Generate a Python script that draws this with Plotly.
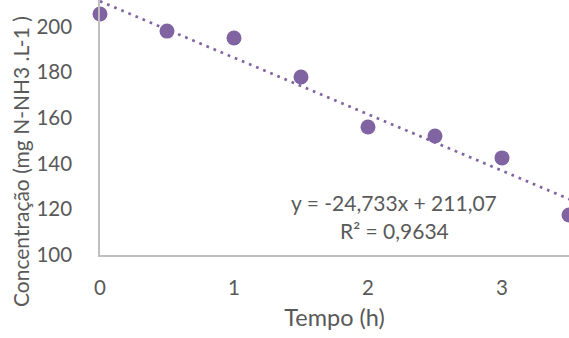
import plotly.graph_objects as go

tempo = [0, 0.5, 1, 1.5, 2, 2.5, 3, 3.5]
conc = [205.5, 198.0, 195.0, 177.9, 156.0, 152.1, 142.5, 117.5]
slope = -24.733
intercept = 211.07
trend_x = [0, 3.6]
x_ticks = [0, 1, 2, 3]
y_ticks = [100, 120, 140, 160, 180, 200]

purple = "#8064A2"
grey_txt = "#595959"
font_family = "Lato, 'Open Sans', Arial, sans-serif"

fig = go.Figure()
fig.add_trace(go.Scatter(
    x=trend_x, y=[slope * v + intercept for v in trend_x], mode="lines",
    line=dict(color=purple, width=2.7, dash="2.7px,5px"),
    hoverinfo="skip", showlegend=False))
fig.add_trace(go.Scatter(
    x=tempo, y=conc, mode="markers",
    marker=dict(color=purple, size=15, line=dict(width=0)),
    cliponaxis=False, showlegend=False))

fig.update_layout(
    width=569, height=338,
    margin=dict(l=100, r=0, t=0, b=83),
    plot_bgcolor="white", paper_bgcolor="white",
    font=dict(family=font_family, color=grey_txt, size=20),
    xaxis=dict(range=[0, 3.5], tickvals=x_ticks, showgrid=False, zeroline=False,
               showline=True, linecolor="#BFBFBF", linewidth=1.5,
               ticks="", ticklabelstandoff=14, tickfont=dict(size=20.5),
               title=dict(text="Tempo (h)", font=dict(size=23.5), standoff=11)),
    yaxis=dict(range=[100, 211.6], tickvals=y_ticks, showgrid=False, zeroline=False,
               showline=True, linecolor="#BFBFBF", linewidth=1.5,
               ticks="", ticklabelstandoff=22, tickfont=dict(size=20.5)),
    annotations=[
        dict(text="Concentração (mg N-NH3 .L-1 )", xref="paper", yref="paper",
             x=(20 - 100) / 469, y=(255 - 162) / 255, textangle=-90, showarrow=False,
             xanchor="center", yanchor="middle", font=dict(size=21)),
        dict(text="y = -24,733x + 211,07", xref="x", yref="y",
             x=(394 - 100) / 134, y=200 - (202 - 26.5) / 2.285, showarrow=False,
             xanchor="center", yanchor="middle", font=dict(size=21)),
        dict(text="R² = 0,9634", xref="x", yref="y",
             x=(394 - 100) / 134, y=200 - (230 - 26.5) / 2.285, showarrow=False,
             xanchor="center", yanchor="middle", font=dict(size=21)),
    ],
)
fig.write_html("out.html")
